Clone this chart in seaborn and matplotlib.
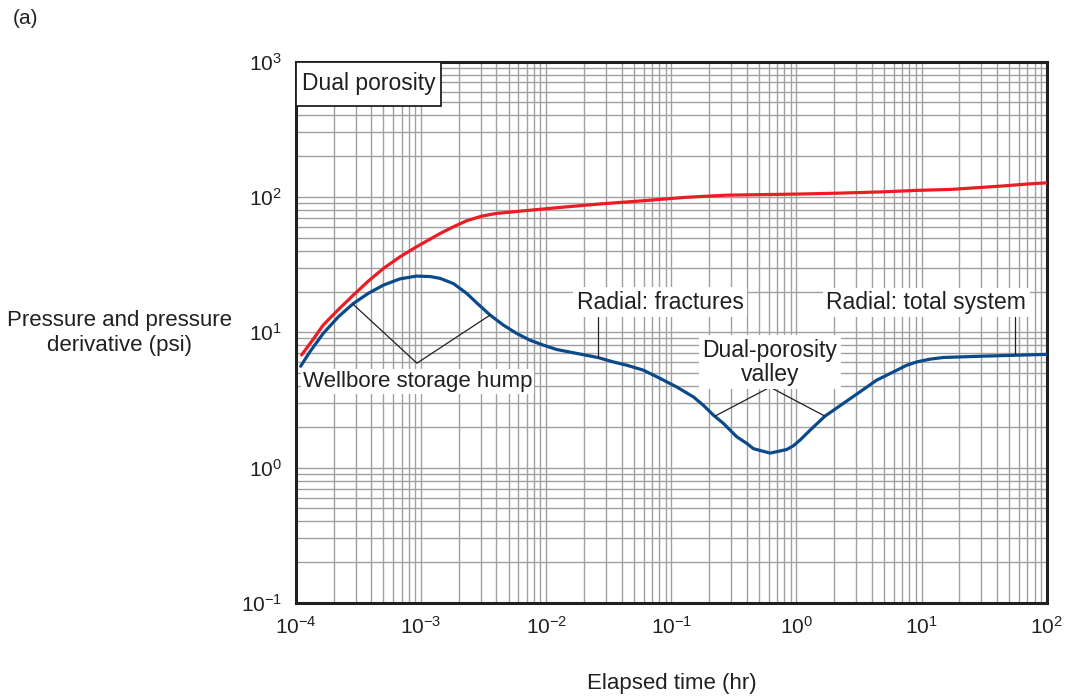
import numpy as np
import pandas as pd
import matplotlib
matplotlib.use("Agg")
import matplotlib.pyplot as plt
import seaborn as sns
from matplotlib.ticker import LogLocator, NullFormatter
from matplotlib.patches import Rectangle

# ---------------- data ----------------
time_pressure = [1.11e-4, 1.37e-4, 1.65e-4, 2.18e-4, 2.87e-4, 3.79e-4, 5.0e-4,
                 6.78e-4, 9.2e-4, 1.42e-3, 1.81e-3, 2.31e-3, 3.05e-3, 4.0e-3,
                 6.6e-3, 1.29e-2, 2.78e-2, 5.9e-2, 0.129, 0.28, 1.07, 2.30,
                 4.95, 9.16, 16.9, 26.8, 42.4, 69.3, 100]
pressure = [6.8, 8.85, 11.3, 14.7, 18.8, 23.9, 29.6,
            36.1, 42.8, 53.7, 60.1, 66.6, 72.1, 75.5,
            78.9, 83.6, 88.9, 93.6, 99.2, 103, 105, 106.7,
            109, 111.7, 113.5, 116.7, 120, 124.4, 127]

time_derivative = [1.09e-4, 1.29e-4, 1.65e-4, 2.18e-4, 2.87e-4, 3.79e-4, 5.0e-4,
                   6.78e-4, 9.2e-4, 1.18e-3, 1.42e-3, 1.81e-3, 2.31e-3, 2.86e-3,
                   3.56e-3, 4.54e-3, 5.81e-3, 7.41e-3, 9.49e-3, 1.21e-2, 2.58e-2,
                   3.43e-2, 4.40e-2, 5.97e-2, 8.13e-2, 0.110, 0.150, 0.180,
                   0.217, 0.261, 0.333, 0.401, 0.453, 0.615, 0.835, 0.944,
                   1.07, 1.285, 1.69, 3.22, 4.38, 5.95, 7.62, 9.16, 11.7,
                   14.9, 31.2, 57.7, 100]
derivative = [5.61, 7.16, 9.80, 13.0, 16.3, 19.4, 22.3,
              24.8, 26.0, 25.8, 25.0, 22.9, 19.4, 16.1,
              13.4, 11.3, 9.80, 8.74, 8.03, 7.46, 6.51,
              6.04, 5.71, 5.25, 4.56, 3.95, 3.33, 2.89,
              2.44, 2.12, 1.69, 1.51, 1.38, 1.28, 1.36, 1.45,
              1.60, 1.89, 2.40, 3.63, 4.43, 5.09, 5.71, 6.04, 6.33,
              6.51, 6.66, 6.77, 6.86]

series_names = ["Pressure", "Pressure derivative"]
x_label = "Elapsed time (hr)"
y_label = "Pressure and pressure\nderivative (psi)"
panel_label = "(a)"
box_title = "Dual porosity"

# ---------------- style ----------------
RED = "#ec1c24"
BLUE = "#0b4a8a"
TXT = "#231f20"
GRID = "#a0a0a0"

sns.set_style("white")
plt.rcParams["font.family"] = ["Liberation Sans", "DejaVu Sans"]
plt.rcParams["mathtext.default"] = "regular"
plt.rcParams["text.color"] = TXT

df = pd.concat([
    pd.DataFrame({"time": time_pressure, "value": pressure, "series": series_names[0]}),
    pd.DataFrame({"time": time_derivative, "value": derivative, "series": series_names[1]}),
], ignore_index=True)

fig = plt.figure(figsize=(10.72, 7), dpi=100)
ax = fig.add_axes([0.2761, 0.1386, 0.7003, 0.7735])

ax.set_xscale("log")
ax.set_yscale("log")

sns.lineplot(data=df, x="time", y="value", hue="series",
             palette={series_names[0]: RED, series_names[1]: BLUE},
             estimator=None, legend=False, linewidth=2.3, ax=ax, zorder=3)
for ln in ax.get_lines():
    ln.set_solid_joinstyle("round")
    ln.set_solid_capstyle("round")

ax.set_xlim(1e-4, 1e2)
ax.set_ylim(1e-1, 1e3)

for axis in (ax.xaxis, ax.yaxis):
    axis.set_major_locator(LogLocator(base=10, numticks=20))
    axis.set_minor_locator(LogLocator(base=10, subs=np.arange(2, 10), numticks=200))
    axis.set_minor_formatter(NullFormatter())

ax.grid(True, which="both", color=GRID, linewidth=1.0)
ax.set_axisbelow(True)
ax.tick_params(which="both", length=0, labelcolor=TXT)
ax.tick_params(axis="x", pad=9, labelsize=15)
ax.tick_params(axis="y", pad=10, labelsize=15)

for s in ax.spines.values():
    s.set_visible(True)
    s.set_linewidth(2.2)
    s.set_color(TXT)

ax.set_xlabel(x_label, fontsize=16, color=TXT)
ax.xaxis.set_label_coords(0.5, -0.148)
ax.xaxis.label.set_va("center")
ax.set_ylabel(y_label, fontsize=16, color=TXT, rotation=0,
              ha="center", va="center", multialignment="center")
ax.yaxis.set_label_coords(-0.2345, 0.4986)

fig.text(13 / 1072, 1 - 18 / 700, panel_label, fontsize=15, ha="left", va="center", color=TXT)

# ---------------- annotations ----------------
line_kw = dict(color=TXT, linewidth=0.9, zorder=4)
box_kw = dict(facecolor="white", edgecolor="none", pad=2.5)
fs = 16.5

# Wellbore storage hump
ax.plot([2.86e-4, 9.26e-4, 3.56e-3], [16.1, 5.91, 13.4], **line_kw)
ax.text(9.4e-4, 4.35, "Wellbore storage hump", fontsize=16, ha="center", va="center",
        bbox=dict(facecolor="white", edgecolor="none", pad=1.5), zorder=2.5)

# Radial: fractures
ax.plot([2.58e-2, 2.58e-2], [12.9, 6.51], **line_kw)
ax.text(8.13e-2, 16.7, "Radial: fractures", fontsize=fs, ha="center", va="center",
        bbox=box_kw, zorder=5)

# Dual-porosity valley
ax.plot([0.223, 0.615, 1.69], [2.40, 3.93, 2.40], **line_kw)
ax.text(0.615, 6.0, "Dual-porosity\nvalley", fontsize=fs, ha="center", va="center",
        linespacing=1.05, bbox=box_kw, zorder=5)

# Radial: total system
ax.plot([55.9, 55.9], [12.9, 6.86], **line_kw)
ax.text(10.9, 16.6, "Radial: total system", fontsize=fs, ha="center", va="center",
        bbox=box_kw, zorder=5)

# Dual porosity title box
ax.add_patch(Rectangle((0, 1 - 0.0822), 0.193, 0.0822, transform=ax.transAxes,
                       facecolor="white", edgecolor=TXT, linewidth=1.3, zorder=6,
                       clip_on=False))
ax.text(0.0966, 0.959, box_title, transform=ax.transAxes, fontsize=fs,
        ha="center", va="center", zorder=7)

fig.savefig("out.png", dpi=100)
